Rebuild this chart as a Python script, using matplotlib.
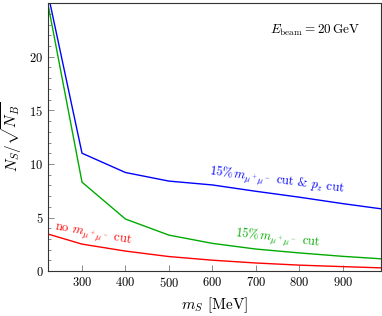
import numpy as np
import matplotlib
matplotlib.use("Agg")
import matplotlib.pyplot as plt

plt.rcParams['mathtext.fontset'] = 'cm'
plt.rcParams['font.family'] = 'serif'
plt.rcParams['font.serif'] = ['cmr10']
plt.rcParams['axes.formatter.use_mathtext'] = True

# masses (MeV)
m_S = [200, 300, 400, 500, 600, 700, 800, 900, 1000]

# significance for each cut
blue = [30.0, 11.0, 9.2, 8.4, 8.04, 7.45, 6.9, 6.3, 5.75]
green = [29.5, 8.3, 4.86, 3.36, 2.59, 2.06, 1.7, 1.38, 1.12]
red = [3.72, 2.52, 1.87, 1.36, 1.02, 0.76, 0.56, 0.42, 0.29]

fig = plt.figure(figsize=(3.82, 3.16), dpi=100)
ax = fig.add_axes([0.126, 0.142, 0.871, 0.848])

ax.plot(m_S, blue, color="#0000ff", lw=1.0)
ax.plot(m_S, green, color="#00aa00", lw=1.0)
ax.plot(m_S, red, color="#ff0000", lw=1.0)

ax.set_xlim(222, 988)
ax.set_ylim(0, 25)
ax.set_xticks([300, 400, 500, 600, 700, 800, 900])
ax.set_yticks([0, 5, 10, 15, 20])
ax.set_yticks(np.arange(0, 25, 1), minor=True)

ax.tick_params(direction="in", labelsize=9, color="#777777", length=4, width=0.6)
ax.tick_params(which="minor", direction="in", length=2, color="#777777", width=0.6)
for s in ax.spines.values():
    s.set_color("#333333")
    s.set_linewidth(0.8)

ax.set_xlabel(r"$m_S$ [MeV]", fontsize=11)
ax.set_ylabel(r"$N_S/\sqrt{N_B}$", fontsize=11, labelpad=4)

ax.text(0.937, 0.90, r"$E_{\mathrm{beam}} = 20\,\mathrm{GeV}$", transform=ax.transAxes,
        ha="right", va="center", fontsize=9.5)
ax.text(748, 8.4, r"15%$\,m_{\mu^+\mu^-}$ cut & $p_z$ cut",
        color="#0000ff", fontsize=9, ha="center", va="center", rotation=-7.5)
ax.text(750, 3.0, r"15%$\,m_{\mu^+\mu^-}$ cut",
        color="#00aa00", fontsize=9, ha="center", va="center", rotation=-6.5)
ax.text(325, 3.36, r"no $m_{\mu^+\mu^-}$ cut",
        color="#ff0000", fontsize=9, ha="center", va="center", rotation=-10.5)

fig.savefig("out.png", dpi=100)
